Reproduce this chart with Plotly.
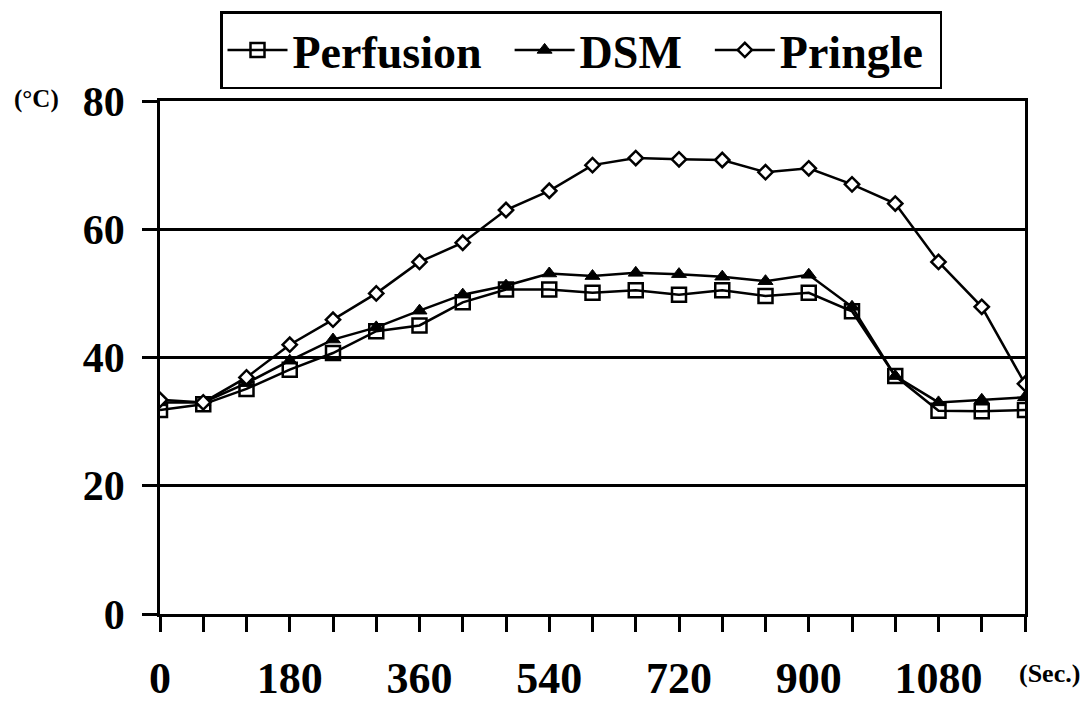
import plotly.graph_objects as go

seconds = [0, 60, 120, 180, 240, 300, 360, 420, 480, 540, 600, 660, 720, 780, 840, 900, 960, 1020, 1080, 1140, 1200]
perfusion = [31.8, 32.7, 35.1, 38.1, 40.7, 44.1, 45.0, 48.6, 50.6, 50.6, 50.1, 50.5, 49.8, 50.5, 49.6, 50.1, 47.2, 37.1, 31.7, 31.6, 31.8]
dsm = [33.0, 33.0, 36.0, 39.5, 42.8, 44.7, 47.3, 49.8, 51.2, 53.1, 52.7, 53.2, 53.0, 52.6, 51.9, 52.9, 47.9, 37.1, 33.0, 33.4, 33.8]
pringle = [33.4, 33.0, 36.9, 42.0, 45.9, 50.0, 54.9, 57.9, 63.0, 66.0, 70.0, 71.1, 70.9, 70.8, 68.9, 69.5, 67.0, 64.0, 54.9, 47.9, 35.9]
x_tick_labels = ["0", "180", "360", "540", "720", "900", "1080"]
x_tick_vals = [0, 180, 360, 540, 720, 900, 1080]
y_tick_vals = [0, 20, 40, 60, 80]
series_names = ["Perfusion", "DSM", "Pringle"]

FONT = "Liberation Serif, Times New Roman, serif"
LW = 2.5
NB = "\u00a0"

# page has an 8px body margin; figure is sized so that it ends at the window edge
W, H = 1080, 694
L, R, T, B = 152, 63, 93, 88
PW, PH = W - L - R, H - T - B


def px_to_paper_x(px):
    return (px - 8 - L) / PW


def px_to_paper_y(py):
    return 1 - (py - 8 - T) / PH


fig = go.Figure()
fig.add_trace(go.Scatter(
    x=seconds, y=perfusion, name=series_names[0] + NB * 2, mode="lines+markers",
    line=dict(color="black", width=LW),
    marker=dict(symbol="square-open", size=14, color="black", line=dict(width=2.5, color="black")),
))
fig.add_trace(go.Scatter(
    x=seconds, y=dsm, name=series_names[1] + NB * 2, mode="lines+markers",
    line=dict(color="black", width=LW),
    marker=dict(symbol="triangle-up", size=13, color="black", line=dict(width=1, color="black")),
))
fig.add_trace(go.Scatter(
    x=seconds, y=pringle, name=series_names[2] + NB, mode="lines+markers",
    line=dict(color="black", width=LW),
    marker=dict(symbol="diamond", size=11, color="white", line=dict(width=2.5, color="black")),
))

fig.update_layout(
    width=W, height=H,
    margin=dict(l=L, r=R, t=T, b=B, autoexpand=False),
    paper_bgcolor="white", plot_bgcolor="white",
    font=dict(family=FONT, color="black", weight="bold"),
    showlegend=True,
    legend=dict(
        orientation="h", x=px_to_paper_x(581), xanchor="center", y=px_to_paper_y(11), yanchor="top",
        font=dict(family=FONT, size=46, color="black", weight="bold"),
        bordercolor="black", borderwidth=2.5, bgcolor="white",
        itemwidth=60,
    ),
    xaxis=dict(
        range=[0, 1200], tickmode="array", tickvals=x_tick_vals, ticktext=x_tick_labels,
        ticks="outside", ticklen=15, tickwidth=LW, tickcolor="black",
        tickfont=dict(family=FONT, size=44, color="black", weight="bold"),
        ticklabelstandoff=8, automargin=False,
        showline=True, linecolor="black", linewidth=LW, mirror=True,
        showgrid=False, zeroline=False,
        minor=dict(dtick=60, ticks="outside", ticklen=15, tickwidth=LW, tickcolor="black", showgrid=False),
    ),
    yaxis=dict(
        range=[0, 80], tickmode="array", tickvals=y_tick_vals,
        ticks="outside", ticklen=15, tickwidth=LW, tickcolor="black",
        tickfont=dict(family=FONT, size=42, color="black", weight="bold"),
        ticklabelstandoff=9, automargin=False,
        showline=True, linecolor="black", linewidth=LW, mirror=True,
        showgrid=True, gridcolor="black", gridwidth=LW, zeroline=False,
    ),
    annotations=[
        dict(text="(°C)", xref="paper", yref="paper", x=px_to_paper_x(37), y=px_to_paper_y(99),
             xanchor="center", yanchor="middle", showarrow=False,
             font=dict(family=FONT, size=25, color="black", weight="bold")),
        dict(text="(Sec.)", xref="paper", yref="paper", x=px_to_paper_x(1049), y=px_to_paper_y(673),
             xanchor="center", yanchor="middle", showarrow=False,
             font=dict(family=FONT, size=26, color="black", weight="bold")),
    ],
)

fig.write_html("out.html")
